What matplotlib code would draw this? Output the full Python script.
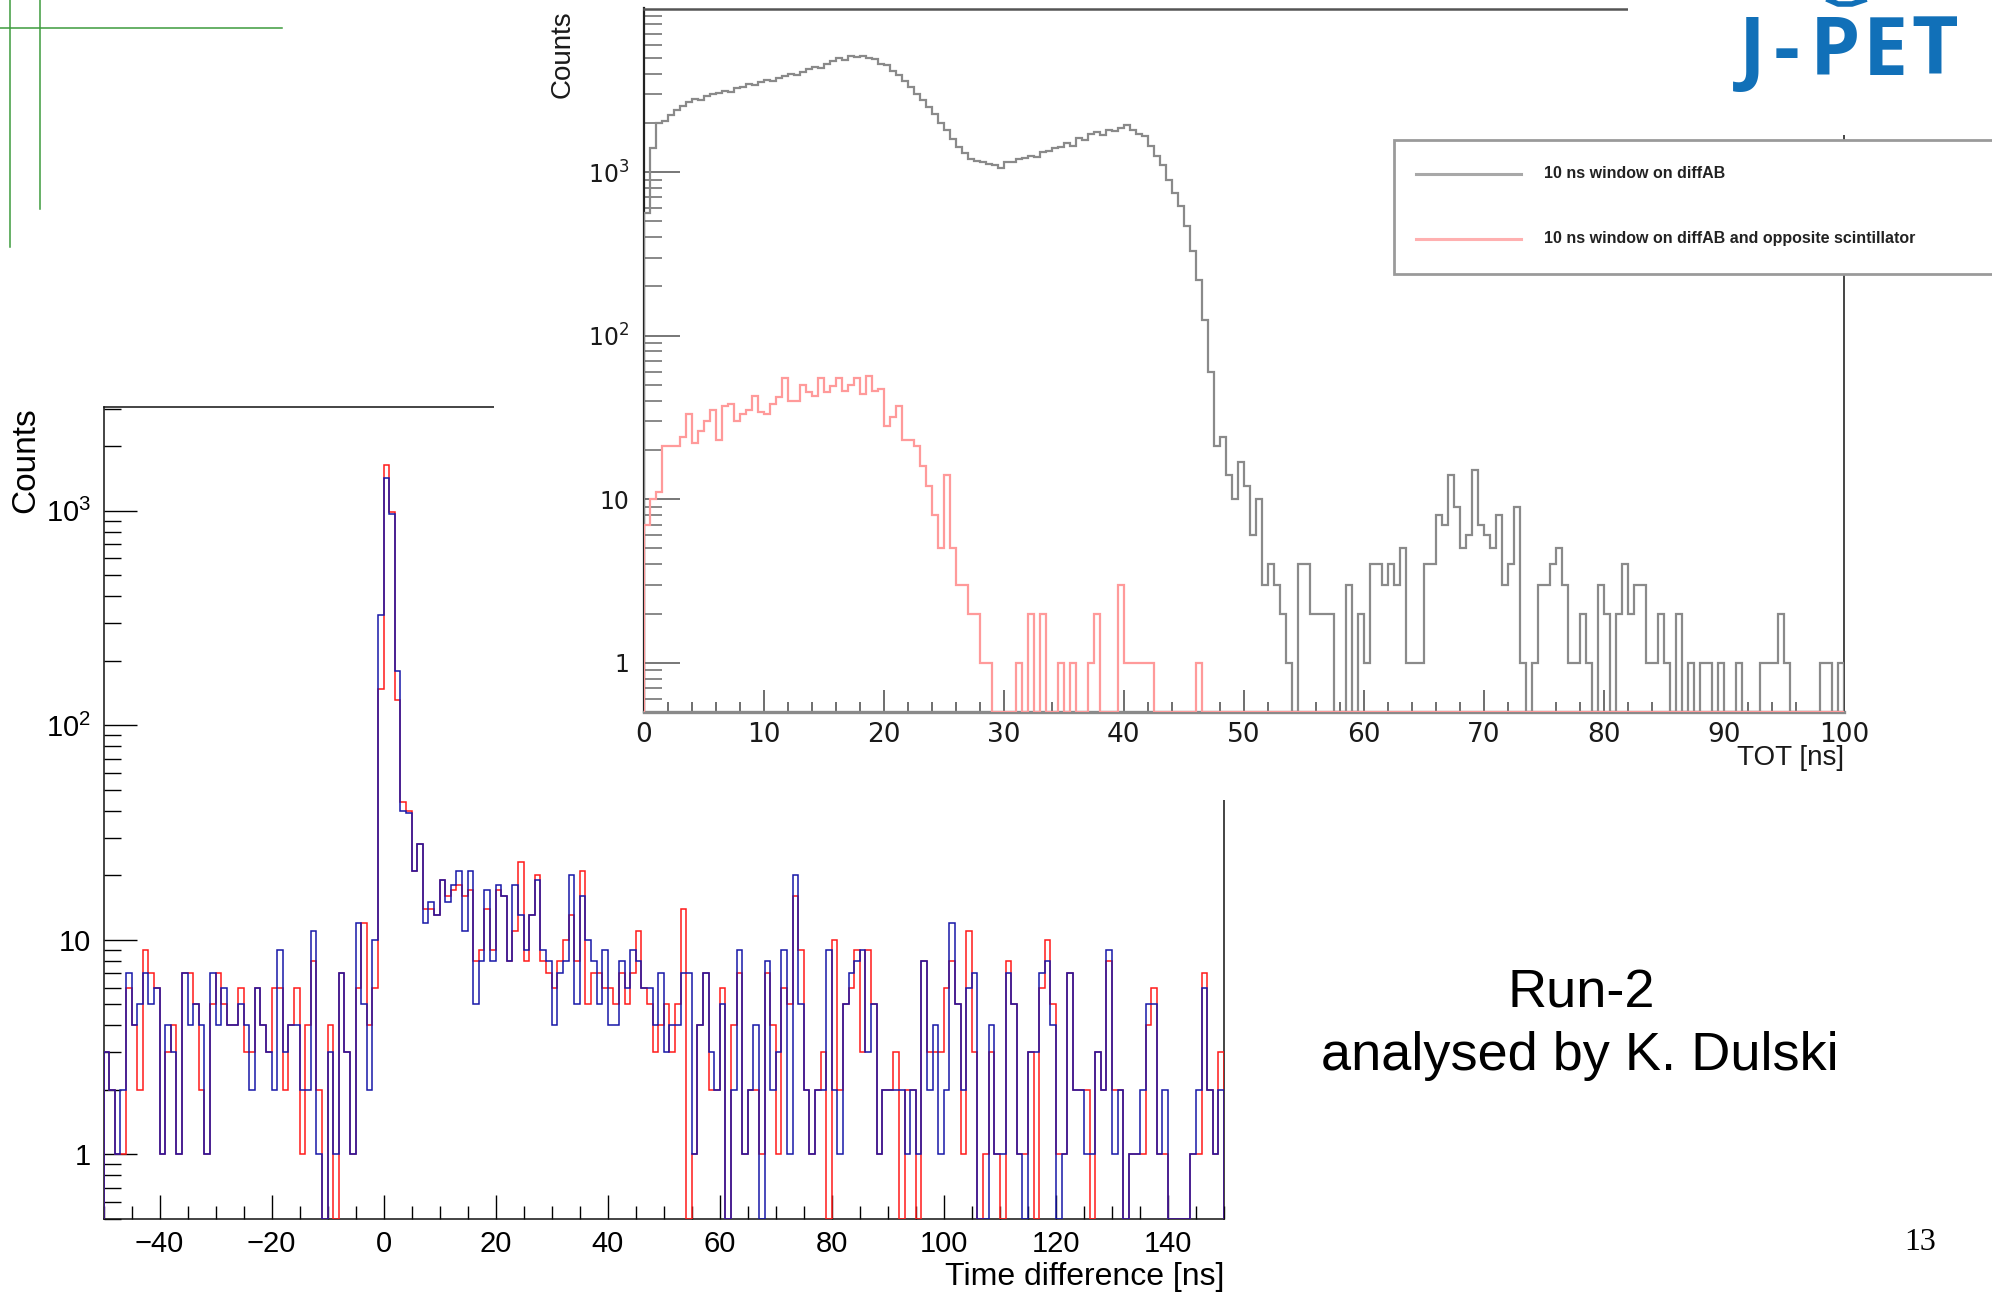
import numpy as np
import matplotlib
matplotlib.use("Agg")
import matplotlib.pyplot as plt
from matplotlib.patches import Rectangle
from matplotlib.lines import Line2D
from matplotlib.ticker import FixedLocator, MultipleLocator, FuncFormatter, NullFormatter

plt.rcParams['font.family'] = ['Liberation Sans', 'DejaVu Sans']

# ---------------- data: lower plot (time difference, 1 ns bins, -50..150 ns) -------------
td_range = (-50, 150)
td_blue = [3, 2, 1, 2, 7, 4, 5, 7, 5, 6,
           1, 4, 3, 1, 7, 4, 5, 4, 1, 7,
           4, 6, 4, 4, 5, 4, 2, 6, 4, 3,
           2, 9, 3, 4, 4, 2, 2, 11, 1, 0,
           3, 1, 7, 3, 1, 12, 5, 2, 10, 328,
           1426, 970, 180, 40, 39, 21, 28, 12, 15, 13,
           19, 15, 18, 21, 11, 21, 5, 8, 17, 8,
           18, 16, 8, 18, 13, 9, 13, 19, 9, 8,
           4, 7, 8, 20, 5, 16, 10, 8, 5, 9,
           4, 4, 8, 6, 9, 8, 6, 6, 4, 7,
           3, 4, 4, 7, 7, 1, 4, 7, 3, 2,
           5, 0, 2, 9, 1, 2, 4, 0, 8, 2,
           3, 9, 1, 20, 5, 2, 1, 2, 2, 9,
           2, 1, 5, 7, 8, 9, 3, 5, 1, 2,
           2, 2, 2, 1, 2, 1, 8, 2, 4, 1,
           2, 12, 5, 2, 6, 7, 0, 0, 4, 1,
           1, 7, 5, 1, 0, 3, 3, 7, 8, 4,
           0, 1, 7, 2, 2, 1, 1, 3, 2, 9,
           1, 2, 0, 1, 1, 2, 5, 5, 1, 2,
           0, 0, 0, 0, 1, 2, 6, 2, 1, 2]
td_red = [3, 2, 1, 1, 6, 4, 2, 9, 7, 6,
          1, 3, 4, 1, 7, 7, 5, 2, 1, 5,
          7, 5, 4, 4, 6, 3, 3, 6, 4, 3,
          6, 6, 2, 4, 6, 1, 4, 8, 2, 0,
          4, 0, 7, 3, 1, 6, 12, 4, 6, 148,
          1633, 988, 131, 44, 40, 21, 28, 14, 14, 13,
          19, 16, 17, 18, 16, 17, 8, 9, 14, 9,
          17, 16, 8, 11, 23, 8, 13, 20, 8, 7,
          6, 8, 10, 13, 8, 21, 5, 7, 7, 6,
          6, 5, 7, 5, 7, 11, 6, 5, 3, 4,
          5, 3, 5, 14, 0, 1, 4, 7, 2, 2,
          6, 0, 4, 7, 1, 2, 2, 1, 7, 4,
          1, 6, 5, 16, 9, 2, 1, 2, 3, 0,
          10, 2, 5, 6, 9, 3, 9, 5, 1, 2,
          2, 3, 0, 2, 2, 0, 8, 3, 3, 3,
          6, 8, 5, 1, 11, 3, 0, 1, 3, 1,
          0, 8, 5, 1, 1, 3, 0, 6, 10, 5,
          1, 1, 7, 2, 2, 2, 0, 3, 2, 8,
          2, 2, 0, 1, 1, 1, 4, 6, 1, 1,
          0, 0, 0, 0, 1, 1, 7, 2, 1, 3]
td_xticks = [-40, -20, 0, 20, 40, 60, 80, 100, 120, 140]
td_yticks = [1, 10, 100, 1000]

# ---------------- data: upper plot (TOT, 0.5 ns bins, 0..100 ns) ----------------
tot_range = (0, 100)
tot_gray = [560, 1400, 1990, 2050, 2240, 2400, 2550, 2700, 2800, 2750,
            2900, 3000, 3050, 3150, 3100, 3250, 3300, 3450, 3400, 3550,
            3650, 3600, 3750, 3850, 3950, 3900, 4100, 4250, 4400, 4300,
            4600, 4800, 4950, 4850, 5100, 5050, 5150, 5000, 4900, 4600,
            4500, 4150, 3900, 3600, 3300, 3000, 2750, 2500, 2250, 2000,
            1800, 1600, 1420, 1300, 1200, 1170, 1150, 1120, 1100, 1060,
            1160, 1150, 1200, 1220, 1260, 1240, 1320, 1350, 1400, 1420,
            1500, 1450, 1620, 1580, 1700, 1750, 1680, 1820, 1780, 1850,
            1950, 1820, 1700, 1650, 1450, 1250, 1100, 900, 750, 620,
            470, 330, 220, 124, 60, 21, 24, 14, 10, 17,
            12, 6, 10, 3, 4, 3, 2, 1, 0, 4,
            4, 2, 2, 2, 2, 0, 0, 3, 0, 2,
            1, 4, 4, 3, 4, 3, 5, 1, 1, 1,
            4, 4, 8, 7, 14, 9, 5, 6, 15, 7,
            6, 5, 8, 3, 4, 9, 1, 0, 1, 3,
            3, 4, 5, 3, 1, 1, 2, 1, 0, 3,
            2, 0, 2, 4, 2, 3, 3, 1, 1, 2,
            1, 0, 2, 0, 1, 0, 1, 1, 0, 1,
            0, 0, 1, 0, 0, 0, 1, 1, 1, 2,
            1, 0, 0, 0, 0, 0, 1, 1, 0, 1]
tot_red = [7, 10, 11, 21, 21, 21, 24, 33, 22, 26,
           30, 35, 23, 37, 38, 30, 33, 35, 43, 34,
           33, 38, 42, 55, 40, 40, 50, 45, 43, 55,
           45, 49, 55, 46, 50, 55, 44, 57, 46, 47,
           28, 32, 37, 23, 23, 21, 16, 12, 8, 5,
           14, 5, 3, 3, 2, 2, 1, 1, 0, 0,
           0, 0, 1, 0, 2, 0, 2, 0, 0, 1,
           0, 1, 0, 0, 1, 2, 0, 0, 0, 3,
           1, 1, 1, 1, 1, 0, 0, 0, 0, 0,
           0, 0, 1, 0, 0, 0, 0, 0, 0, 0] + [0] * 100
tot_xticks = [0, 10, 20, 30, 40, 50, 60, 70, 80, 90, 100]
tot_yticks = [1, 10, 100, 1000]
legend_labels = ["10 ns window on diffAB", "10 ns window on diffAB and opposite scintillator"]

# ---------------- figure ----------------
W, H = 1992, 1295
fig = plt.figure(figsize=(W / 100, H / 100), dpi=100)


def box(l, t, r, b):
    return [l / W, 1 - b / H, (r - l) / W, (b - t) / H]


def fx(px):
    return px / W


def fy(py):
    return 1 - py / H


def decade_fmt(v, pos):
    lab = {1: '1', 10: '10', 100: r'$\mathregular{10^{2}}$', 1000: r'$\mathregular{10^{3}}$'}
    return lab.get(int(round(v)), '')


minor_log = []
for dec in [0.1, 1, 10, 100, 1000]:
    for m in range(2, 10):
        minor_log.append(m * dec)

# ---- green slide decoration ----
for (x0, y0, x1, y1) in [(0, 28, 282, 28), (10, 0, 10, 247), (40, 0, 40, 209)]:
    fig.add_artist(Line2D([fx(x0), fx(x1)], [fy(y0), fy(y1)], color='#3d9b3d', lw=1.1,
                          transform=fig.transFigure, zorder=1))

# ---- lower plot ----
axL = fig.add_axes(box(103.5, 407, 1224, 1219))
axL.set_zorder(1)
ymin_L = 0.5
tdb = np.array(td_blue, float)
tdr = np.array(td_red, float)
td_edges = np.arange(td_range[0], td_range[1] + 1, 1)
axL.stairs(np.where(tdr > 0, tdr, ymin_L), td_edges, baseline=ymin_L, color='#ff1a1a', lw=1.1, zorder=3)
axL.stairs(np.where(tdb > 0, tdb, ymin_L), td_edges, baseline=ymin_L, color='#1818a8', lw=1.1, zorder=3.1)
axL.set_xlim(*td_range)
axL.set_yscale('log')
axL.set_ylim(ymin_L, 3050)
axL.xaxis.set_major_locator(FixedLocator(td_xticks))
axL.xaxis.set_minor_locator(MultipleLocator(5))
axL.yaxis.set_major_locator(FixedLocator(td_yticks))
axL.yaxis.set_minor_locator(FixedLocator(minor_log))
axL.yaxis.set_major_formatter(FuncFormatter(decade_fmt))
axL.yaxis.set_minor_formatter(NullFormatter())
axL.tick_params(axis='x', which='major', direction='in', length=17, width=1.0, labelsize=21, pad=8)
axL.tick_params(axis='x', which='minor', direction='in', length=9.5, width=1.0)
axL.tick_params(axis='y', which='major', direction='in', length=24, width=1.0, labelsize=21, pad=9)
axL.tick_params(axis='y', which='minor', direction='in', length=12, width=1.0)
for s in axL.spines.values():
    s.set_linewidth(1.1)
    s.set_color('#111111')

fig.text(fx(26), fy(407), 'Counts', rotation=90, ha='center', va='top', fontsize=24, zorder=5)
fig.text(fx(1224), fy(1285), 'Time difference [ns]', ha='right', va='baseline', fontsize=23, zorder=5)

# ---- white area of the pasted upper picture ----
fig.add_artist(Rectangle((fx(494), fy(800)), (W - 494) / W, 800 / H, transform=fig.transFigure,
                         facecolor='white', edgecolor='none', zorder=2))

# ---- upper plot ----
axU = fig.add_axes(box(643.5, 8.5, 1844, 712))
axU.set_zorder(3)
ymin_U = 0.5
tg = np.array(tot_gray, float)
trd = np.array(tot_red, float)
tot_edges = np.arange(tot_range[0], tot_range[1] + 0.25, 0.5)
axU.stairs(np.where(tg > 0, tg, ymin_U), tot_edges, baseline=ymin_U, color='#8a8a8a', lw=1.6, zorder=3)
axU.stairs(np.where(trd > 0, trd, ymin_U), tot_edges, baseline=ymin_U, color='#ff9a9a', lw=1.6, zorder=3.1)
axU.set_xlim(*tot_range)
axU.set_yscale('log')
axU.set_ylim(ymin_U, 1.0e4)
axU.xaxis.set_major_locator(FixedLocator(tot_xticks))
axU.xaxis.set_minor_locator(MultipleLocator(2))
axU.yaxis.set_major_locator(FixedLocator(tot_yticks))
axU.yaxis.set_minor_locator(FixedLocator(minor_log))
axU.yaxis.set_major_formatter(FuncFormatter(decade_fmt))
axU.yaxis.set_minor_formatter(NullFormatter())
axU.tick_params(axis='x', which='major', direction='in', length=16, width=1.2, labelsize=19, pad=7,
                color='#555555', labelcolor='#1a1a1a', labelfontfamily='DejaVu Sans')
axU.tick_params(axis='x', which='minor', direction='in', length=7.5, width=1.2, color='#555555')
axU.tick_params(axis='y', which='major', direction='in', length=26, width=1.4, labelsize=17, pad=10,
                color='#777777', labelcolor='#1a1a1a', labelfontfamily='DejaVu Sans')
axU.tick_params(axis='y', which='minor', direction='in', length=13, width=1.4, color='#888888')
axU.spines['left'].set_color('#222222')
axU.spines['left'].set_linewidth(1.6)
axU.spines['top'].set_color('#555555')
axU.spines['top'].set_linewidth(1.8)
axU.spines['right'].set_color('#444444')
axU.spines['right'].set_linewidth(1.4)
axU.spines['bottom'].set_color('#8a8a8a')
axU.spines['bottom'].set_linewidth(2.4)

fig.text(fx(563), fy(10), 'Counts', rotation=90, ha='center', va='top', fontsize=20,
         color='#1a1a1a', zorder=5)
fig.text(fx(1844), fy(765), 'TOT [ns]', ha='right', va='baseline', fontsize=20, color='#1a1a1a', zorder=5)

# ---- logo area ----
fig.add_artist(Rectangle((fx(1628), fy(135)), (W - 1628) / W, 135 / H, transform=fig.transFigure,
                         facecolor='white', edgecolor='none', zorder=4))
logo_col = '#1170b8'
for ch, px in [('J', 1739), ('-', 1774), ('P', 1810), ('E', 1863), ('T', 1911)]:
    fig.text(fx(px), fy(75), ch, ha='left', va='baseline', fontsize=58, fontweight='bold',
             family=['Open Sans', 'DejaVu Sans'], color=logo_col, zorder=5)
fig.add_artist(Line2D([fx(1829), fx(1838), fx(1852), fx(1864)], [fy(0), fy(4), fy(4), fy(0)],
                      color=logo_col, lw=4, transform=fig.transFigure, zorder=5))

# ---- legend ----
fig.add_artist(Rectangle((fx(1394), fy(274)), (W + 20 - 1394) / W, 134 / H, transform=fig.transFigure,
                         facecolor='white', edgecolor='#9a9a9a', lw=2.0, zorder=6, clip_on=False))
for yy, col, lab in [(174, '#a8a8a8', legend_labels[0]), (239, '#ffb0b0', legend_labels[1])]:
    fig.add_artist(Line2D([fx(1416), fx(1521)], [fy(yy), fy(yy)], color=col, lw=2.2,
                          transform=fig.transFigure, zorder=7))
    fig.text(fx(1544), fy(yy), lab, ha='left', va='center', fontsize=11.5, fontweight='bold',
             color='#222222', zorder=7)

# ---- slide texts ----
fig.text(fx(1581), fy(1007), 'Run-2', ha='center', va='baseline', fontsize=39, zorder=5)
fig.text(fx(1580), fy(1070), 'analysed by K. Dulski', ha='center', va='baseline', fontsize=39, zorder=5)
fig.text(fx(1920), fy(1250), '13', ha='center', va='baseline', fontsize=23,
         family=['Liberation Serif', 'DejaVu Serif'], zorder=5)

fig.savefig('out.png', dpi=100, facecolor='white')
